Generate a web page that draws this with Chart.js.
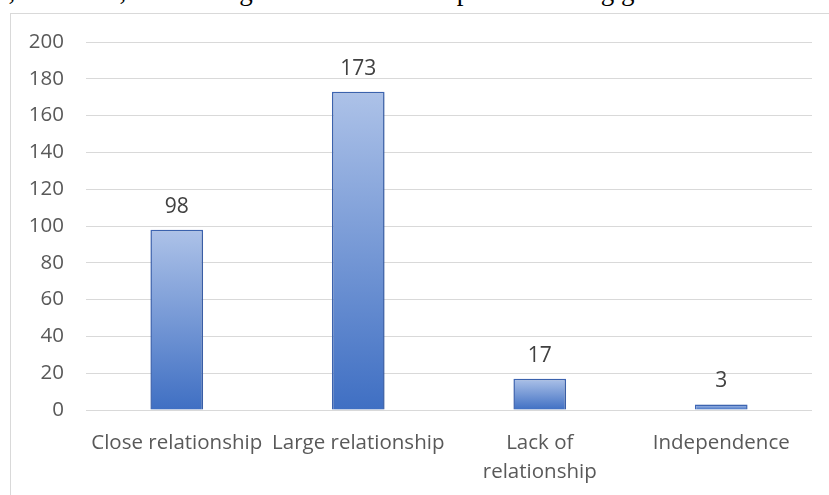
<!DOCTYPE html>
<html>
<head>
<meta charset="utf-8">
<script src="https://cdn.jsdelivr.net/npm/chart.js@4.4.1/dist/chart.umd.min.js"></script>
<style>
  html, body { margin: 0; padding: 0; background: #fff; overflow: hidden; }
  #wrap { position: relative; width: 829px; height: 495px; }
  #topText {
    position: absolute; left: -62px; top: -22px; white-space: nowrap;
    font-family: "Liberation Serif", "Times New Roman", serif; font-size: 27px; line-height: 27px; color: #000;
  }
  #frame {
    position: absolute; left: 10px; top: 13px; width: 900px; height: 600px;
    border: 1px solid #d9d9d9; box-sizing: border-box;
  }
  canvas { position: absolute; left: 0; top: 0; }
</style>
</head>
<body>
<div id="wrap">
  <div id="topText">reason, therefore, conducting research on this topic of learning g</div>
  <div id="frame"></div>
  <canvas id="grafico" width="829" height="495"></canvas>
</div>
<script>
// --- DADOS ---
const categorias = ['Close relationship', 'Large relationship', ['Lack of', 'relationship'], 'Independence'];
const valores = [98, 173, 17, 3];
const ticksY = { min: 0, max: 200, step: 20 };

const fonteEixo = { family: '"Open Sans", "Noto Sans", sans-serif', size: 20.5, lineHeight: 1.4 };

// gradiente por barra (claro no topo da barra, azul forte na base)
const gradienteBarra = (ctx) => {
    const chart = ctx.chart;
    const area = chart.chartArea;
    if (!area || ctx.raw === undefined) return '#4472c4';
    const topo = chart.scales.y.getPixelForValue(ctx.raw);
    const g = chart.ctx.createLinearGradient(0, topo, 0, area.bottom);
    g.addColorStop(0, '#adc2e8');
    g.addColorStop(1, '#3f6fc3');
    return g;
};

// rótulos de valor acima das barras
const rotulosValor = {
    id: 'rotulosValor',
    afterDatasetsDraw(chart) {
        const { ctx } = chart;
        const meta = chart.getDatasetMeta(0);
        ctx.save();
        ctx.font = '21px "Open Sans", "Noto Sans", sans-serif';
        ctx.fillStyle = '#404040';
        ctx.textAlign = 'center';
        ctx.textBaseline = 'alphabetic';
        meta.data.forEach((bar, i) => {
            ctx.fillText(valores[i], bar.x, bar.y - 17);
        });
        ctx.restore();
    }
};

// sombra leve das barras
const sombraBarra = {
    id: 'sombraBarra',
    beforeDatasetsDraw(chart) {
        chart.ctx.save();
        chart.ctx.shadowColor = 'rgba(0,0,0,0.18)';
        chart.ctx.shadowBlur = 6;
        chart.ctx.shadowOffsetX = 1;
        chart.ctx.shadowOffsetY = 1;
    },
    afterDatasetsDraw(chart) {
        chart.ctx.restore();
    }
};

new Chart(document.getElementById('grafico'), {
    type: 'bar',
    data: {
        labels: categorias,
        datasets: [{
            data: valores,
            backgroundColor: gradienteBarra,
            borderColor: '#3f68b8',
            borderWidth: 1.5,
            barPercentage: 0.29,
            categoryPercentage: 1
        }]
    },
    options: {
        responsive: false,
        animation: false,
        devicePixelRatio: 1,
        layout: { padding: { top: 42, right: 17, left: 0, bottom: 0 } },
        plugins: { legend: { display: false }, tooltip: { enabled: false } },
        scales: {
            x: {
                grid: { display: false },
                border: { display: false },
                ticks: { color: '#595959', font: fonteEixo, padding: 11, maxRotation: 0, autoSkip: false },
                afterFit(scale) { scale.height = 85; }
            },
            y: {
                min: ticksY.min, max: ticksY.max,
                grid: { color: '#d9d9d9', lineWidth: 1, drawTicks: false },
                border: { display: false },
                ticks: { stepSize: ticksY.step, color: '#595959', font: fonteEixo, padding: 22 },
                afterFit(scale) { scale.width = 86; }
            }
        }
    },
    plugins: [sombraBarra, rotulosValor]
});
</script>
</body>
</html>
